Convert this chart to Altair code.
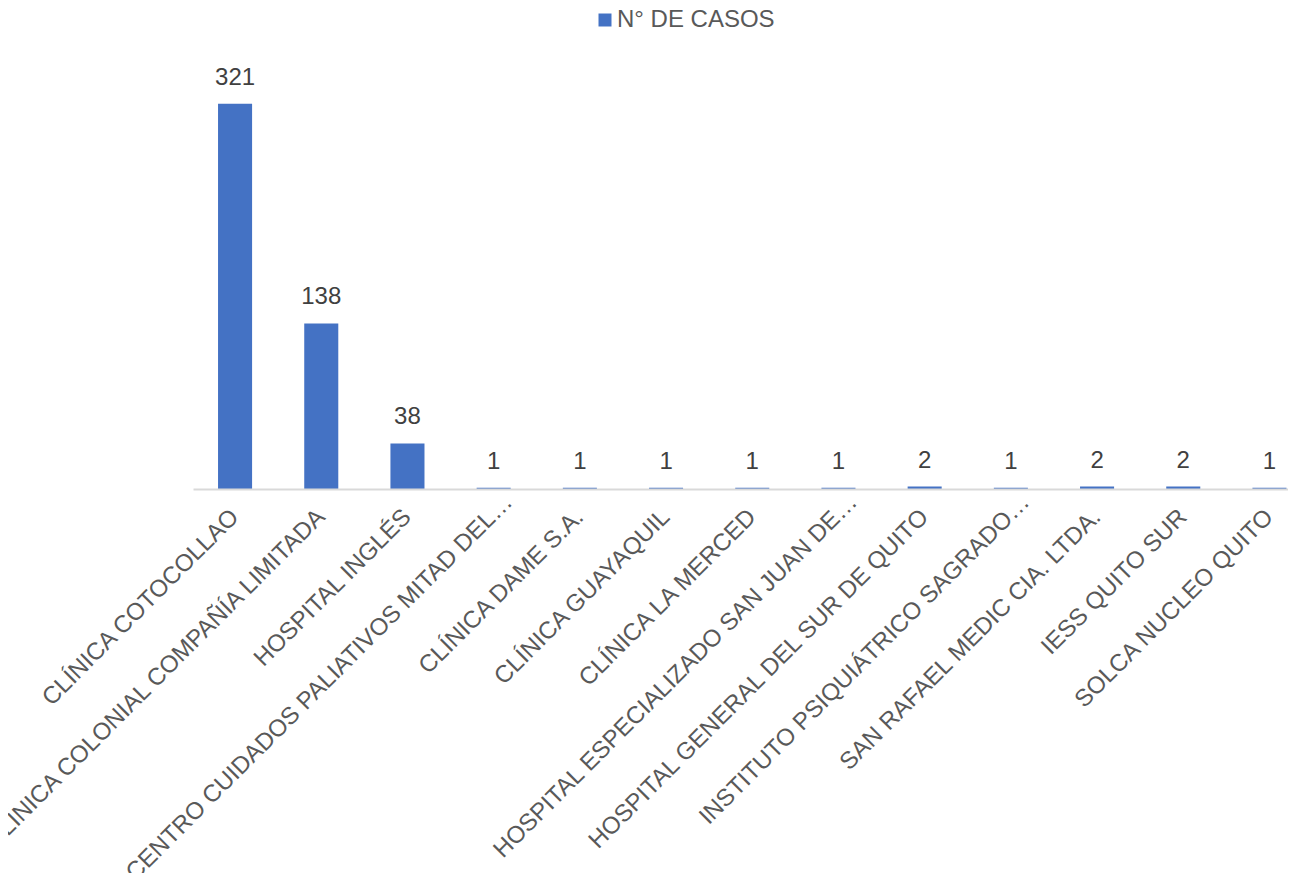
import altair as alt
import pandas as pd

categories = [
    "CLÍNICA COTOCOLLAO",
    "CLÍNICA COLONIAL COMPAÑÍA LIMITADA",
    "HOSPITAL INGLÉS",
    "CENTRO CUIDADOS PALIATIVOS MITAD DEL…",
    "CLÍNICA DAME S.A.",
    "CLÍNICA GUAYAQUIL",
    "CLÍNICA LA MERCED",
    "HOSPITAL ESPECIALIZADO SAN JUAN DE…",
    "HOSPITAL GENERAL DEL SUR DE QUITO",
    "INSTITUTO PSIQUIÁTRICO SAGRADO…",
    "SAN RAFAEL MEDIC CIA. LTDA.",
    "IESS QUITO SUR",
    "SOLCA NUCLEO QUITO",
]
casos = [321, 138, 38, 1, 1, 1, 1, 1, 2, 1, 2, 2, 1]
series_name = "N° DE CASOS"

df = pd.DataFrame({"cat": categories, "casos": casos, "serie": series_name})

FONT = "Liberation Sans"
TXT = "#595959"
ELLIPSIS_TEST = "indexof(datum.label, '…') >= 0"

x = alt.X(
    "cat:N",
    sort=categories,
    title=None,
    scale=alt.Scale(paddingInner=0.605, paddingOuter=0.154, align=0.943),
    axis=alt.Axis(
        labelAngle=-45,
        labelAlign="right",
        labelBaseline="middle",
        labelPadding={"condition": {"test": ELLIPSIS_TEST, "value": 9}, "value": 24},
        labelOffset={"condition": {"test": ELLIPSIS_TEST, "value": 15}, "value": 0},
        labelLimit=1000,
        labelFont=FONT,
        labelFontSize=24,
        labelColor=TXT,
        labelOverlap=False,
        ticks=False,
        domainColor="#D9D9D9",
        domainWidth=2,
        grid=False,
        zindex=1,
    ),
)
y = alt.Y(
    "casos:Q",
    scale=alt.Scale(domain=[0, 350]),
    axis=None,
)

bars = alt.Chart(df).mark_bar().encode(
    x=x,
    y=y,
    color=alt.Color(
        "serie:N",
        scale=alt.Scale(domain=[series_name], range=["#4472C4"]),
        legend=alt.Legend(
            title=None,
            orient="none",
            legendX=400,
            legendY=-61,
            symbolType="square",
            symbolSize=169,
            symbolStrokeWidth=0,
            labelFont=FONT,
            labelFontSize=24,
            labelColor=TXT,
            labelOffset=0,
            labelLimit=400,
            padding=0,
        ),
    ),
)

labels = alt.Chart(df).mark_text(
    baseline="bottom", dy=-14, font=FONT, fontSize=24, color="#404040"
).encode(x=x, y=y, text="casos:Q")

chart = (
    alt.layer(bars, labels)
    .properties(
        width=1095,
        height=420,
        autosize=alt.AutoSizeParams(type="none"),
        padding={"left": 185, "top": 61, "right": 0, "bottom": 384},
    )
    .configure(background="white", view=alt.ViewConfig(stroke=None, strokeWidth=0))
)

chart.save("out.html", embed_options={"renderer": "svg", "actions": False})
